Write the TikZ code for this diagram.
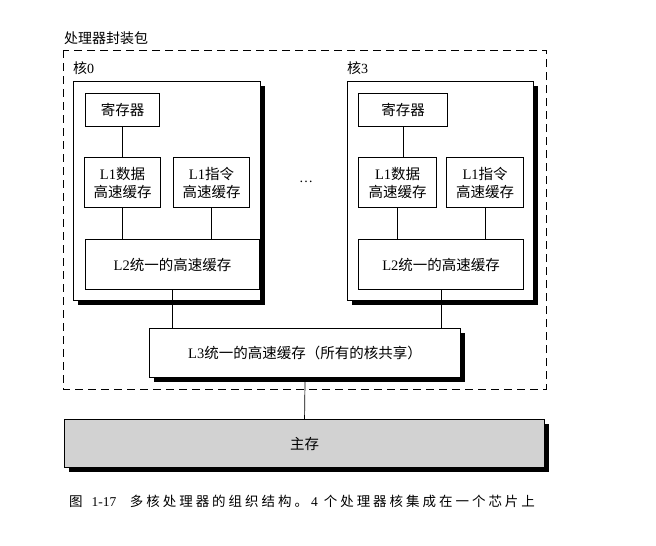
\documentclass[tikz,border=0pt]{standalone}
\usepackage{fontspec}
\setmainfont{Liberation Serif}
\newfontfamily\cjk{Noto Sans CJK SC}
\newfontfamily\cjkcap[LetterSpace=22]{Noto Sans CJK SC}
\usetikzlibrary{shadows}

\begin{document}
\begin{tikzpicture}[
  x=1pt, y=-1pt,
  blackshadow/.style={drop shadow={shadow xshift=4pt, shadow yshift=-4pt, fill=black, opacity=1}},
  corebox/.style={rectangle, draw, line width=1.1pt, fill=white, anchor=north west, inner sep=0pt, blackshadow},
  cachebox/.style={rectangle, draw, line width=1.1pt, fill=white, anchor=north west, inner sep=0pt,
               align=center, font=\cjk\fontsize{14.5}{18}\selectfont},
  membox/.style={cachebox, fill=gray!35, blackshadow},
  tag/.style={anchor=west, inner sep=0pt, font=\cjk\fontsize{14}{16}\selectfont},
  link/.style={line width=0.7pt}
]
\useasboundingbox (0,0) rectangle (656,546);

% package
\draw[dashed, line width=1pt, dash pattern=on 8pt off 5pt] (63,50) rectangle (546,389);
\node[tag] (pkg) at (64,38) {处理器封装包};

% core 0
\node[tag] (core0tag) at (73,68) {核\textrm{0}};
\node[corebox, minimum width=187, minimum height=219] (core0) at (73,81) {};
\node[cachebox, minimum width=74, minimum height=33] (reg0) at (85,93) {寄存器};
\node[cachebox, minimum width=76, minimum height=50] (ldat0) at (84,157) {\textrm{L1}数据\\高速缓存};
\node[cachebox, minimum width=76, minimum height=50] (linst0) at (173,157) {\textrm{L1}指令\\高速缓存};
\node[cachebox, minimum width=174, minimum height=50] (ltwo0) at (85,239) {\textrm{L2}统一的高速缓存};

% core 3
\node[tag] (core3tag) at (347,68) {核\textrm{3}};
\node[corebox, minimum width=186, minimum height=219] (core3) at (347,81) {};
\node[cachebox, minimum width=89, minimum height=33] (reg3) at (358,93) {寄存器};
\node[cachebox, minimum width=78, minimum height=50] (ldat3) at (358,157) {\textrm{L1}数据\\高速缓存};
\node[cachebox, minimum width=77, minimum height=50] (linst3) at (446,157) {\textrm{L1}指令\\高速缓存};
\node[cachebox, minimum width=165, minimum height=50] (ltwo3) at (358,239) {\textrm{L2}统一的高速缓存};

\node[font=\fontsize{14}{16}\selectfont] (dots) at (306,182) {\dots};

% shared levels
\node[cachebox, blackshadow, minimum width=311, minimum height=49] (lthree) at (149,328)
  {\textrm{L3}统一的高速缓存（所有的核共享）};
\node[membox, minimum width=480, minimum height=48] (mem) at (64,419) {主存};

\draw[link] (reg0.south) -- (reg0.south |- ldat0.north);
\draw[link] (ldat0.south) -- (ldat0.south |- ltwo0.north);
\draw[link] (linst0.south) -- (linst0.south |- ltwo0.north);
\draw[link] (reg3.south) -- (reg3.south |- ldat3.north);
\draw[link] (ldat3.south) -- (ldat3.south |- ltwo3.north);
\draw[link] (linst3.south) -- (linst3.south |- ltwo3.north);
\draw[link] (ltwo0.south) -- (ltwo0.south |- lthree.north);
\draw[link] (ltwo3.south) -- (ltwo3.south |- lthree.north);
\draw[link] (lthree.south) -- (mem.north);

\node[tag, font=\cjkcap\fontsize{13.5}{15}\selectfont] (caption) at (69,501)
  {图 \textrm{1-17}\quad 多核处理器的组织结构。\textrm{4} 个处理器核集成在一个芯片上};
\end{tikzpicture}
\end{document}
